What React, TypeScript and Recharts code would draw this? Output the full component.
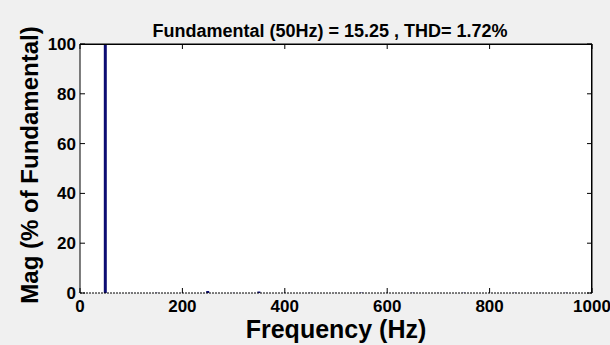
import React from "react";
import {
  ComposedChart,
  Bar,
  XAxis,
  YAxis,
  ReferenceLine,
  CartesianGrid,
} from "recharts";

const frequencies = [0, 50, 100, 150, 200, 250, 300, 350, 400, 450, 500, 550, 600, 650, 700, 750, 800, 850, 900, 950, 1000];
const magnitudes = [0.05, 100, 0.05, 0.1, 0.05, 0.8, 0.05, 0.6, 0.05, 0.1, 0.05, 0.15, 0.05, 0.1, 0.05, 0.1, 0.05, 0.1, 0.05, 0.1, 0.05];
const xTicks = [0, 200, 400, 600, 800, 1000];
const yTicks = [0, 20, 40, 60, 80, 100];
const titleText = "Fundamental (50Hz) = 15.25 , THD= 1.72%";
const xLabel = "Frequency (Hz)";
const yLabel = "Mag (% of Fundamental)";

const data = frequencies.map((f, i) => ({ f, mag: magnitudes[i] }));

const FONT = "Arial, 'Liberation Sans', sans-serif";
const PLOT = { left: 80, top: 44, width: 512, height: 249 };
const TICK_LEN = 5;

const LeftTick = (p: any) => (
  <g>
    <line x1={PLOT.left} x2={PLOT.left + TICK_LEN} y1={p.y} y2={p.y} stroke="#000" />
    <line x1={PLOT.left + PLOT.width - TICK_LEN} x2={PLOT.left + PLOT.width} y1={p.y} y2={p.y} stroke="#000" />
    <text x={p.x} y={p.y} dy="0.355em" textAnchor="end" fontSize={17} fontWeight={700} fontFamily={FONT} fill="#000">
      {p.payload.value}
    </text>
  </g>
);

const BottomTick = (p: any) => (
  <g>
    <line x1={p.x} x2={p.x} y1={PLOT.top + PLOT.height} y2={PLOT.top + PLOT.height - TICK_LEN} stroke="#000" />
    <line x1={p.x} x2={p.x} y1={PLOT.top} y2={PLOT.top + TICK_LEN} stroke="#000" />
    <text x={p.x} y={p.y} dy="0.71em" textAnchor="middle" fontSize={17} fontWeight={700} fontFamily={FONT} fill="#000">
      {p.payload.value}
    </text>
  </g>
);

export default function App() {
  return (
    <div style={{ position: "absolute", left: 0, top: 0, width: 610, height: 345, background: "#f0f0f0" }}>
      <ComposedChart
        width={610}
        height={345}
        data={data}
        margin={{ top: PLOT.top, right: 610 - PLOT.left - PLOT.width, bottom: 22, left: 40 }}
      >
        <CartesianGrid xAxisId="b" yAxisId="l" horizontal={false} vertical={false} fill="#ffffff" fillOpacity={1} stroke="none" />
        <XAxis
          xAxisId="b"
          dataKey="f"
          type="number"
          domain={[0, 1000]}
          ticks={xTicks}
          height={30}
          axisLine={false}
          tickLine={false}
          tickSize={0}
          tickMargin={7}
          tick={BottomTick}
          interval={0}
        />
        <YAxis
          yAxisId="l"
          type="number"
          domain={[0, 100]}
          ticks={yTicks}
          width={40}
          axisLine={{ stroke: "#000" }}
          tickLine={false}
          tickSize={0}
          tickMargin={4}
          tick={LeftTick}
          interval={0}
        />
        <Bar
          xAxisId="b"
          yAxisId="l"
          dataKey="mag"
          fill="#0d0d73"
          barSize={3}
          isAnimationActive={false}
        />
        <ReferenceLine xAxisId="b" yAxisId="l" y={100} stroke="#000" strokeWidth={1} ifOverflow="visible" />
        <ReferenceLine xAxisId="b" yAxisId="l" x={1000} stroke="#000" strokeWidth={1} ifOverflow="visible" />
        <ReferenceLine xAxisId="b" yAxisId="l" y={0} stroke="#000" strokeDasharray="2 1" ifOverflow="visible" />
        <text x={330} y={37} textAnchor="middle" fontSize={18} fontWeight={700} fontFamily={FONT} fill="#000">
          {titleText}
        </text>
        <text x={336} y={338} textAnchor="middle" fontSize={25} fontWeight={700} fontFamily={FONT} fill="#000">
          {xLabel}
        </text>
        <text
          x={0}
          y={0}
          transform="translate(38,165) rotate(-90)"
          textAnchor="middle"
          fontSize={24}
          fontWeight={700}
          fontFamily={FONT}
          fill="#000"
        >
          {yLabel}
        </text>
      </ComposedChart>
      <div
        style={{
          position: "absolute",
          left: PLOT.left,
          top: PLOT.top,
          width: PLOT.width - 1,
          height: PLOT.height - 1,
          borderTop: "1px solid #000",
          borderRight: "1px solid #000",
          pointerEvents: "none",
        }}
      />
    </div>
  );
}
